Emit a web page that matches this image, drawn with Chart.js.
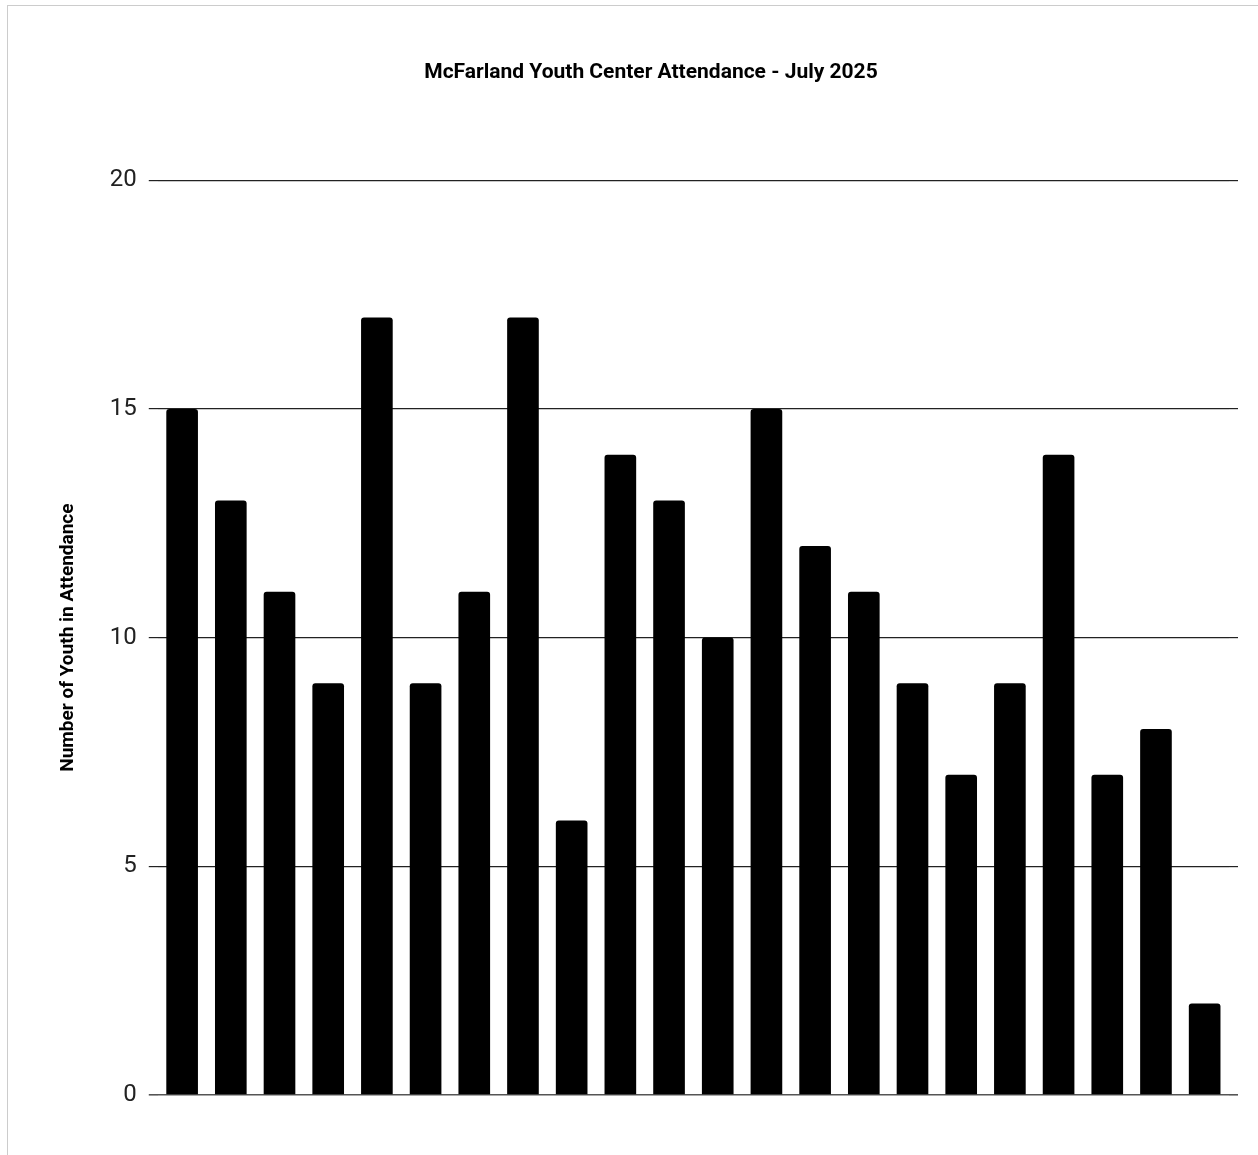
<!DOCTYPE html>
<html>
<head>
<meta charset="utf-8">
<script src="https://cdn.jsdelivr.net/npm/chart.js@4"></script>
<style>
  html, body { margin: 0; padding: 0; background: #fff; overflow: hidden; }
  #wrap {
    position: absolute;
    left: 7px;
    top: 5px;
    width: 1290px;
    height: 1200px;
    border: 1px solid #ccc;
  }
</style>
</head>
<body>
<div id="wrap"><canvas id="attendance-chart"></canvas></div>
<script>
  // one bar per open day in July 2025 (x labels are hidden in the original)
  const days = [
    "Jul 1", "Jul 2", "Jul 3", "Jul 7", "Jul 8", "Jul 9", "Jul 10", "Jul 11",
    "Jul 14", "Jul 15", "Jul 16", "Jul 17", "Jul 18", "Jul 21", "Jul 22",
    "Jul 23", "Jul 24", "Jul 25", "Jul 28", "Jul 29", "Jul 30", "Jul 31"
  ];
  const attendance = [15, 13, 11, 9, 17, 9, 11, 17, 6, 14, 13, 10, 15, 12, 11, 9, 7, 9, 14, 7, 8, 2];
  const yTicks = [0, 5, 10, 15, 20];

  const canvas = document.querySelector("#attendance-chart");

  function gridColor(ctx) {
    return ctx.tick && ctx.tick.value === 0 ? "#555" : "#222";
  }
  function gridWidth(ctx) {
    return ctx.tick && ctx.tick.value === 0 ? 1.6 : 1.2;
  }

  new Chart(canvas.getContext("2d"), {
    type: "bar",
    data: {
      labels: days,
      datasets: [
        {
          label: "Number of Youth in Attendance",
          data: attendance,
          backgroundColor: "#000",
          borderRadius: 3,
          borderSkipped: "start",
          categoryPercentage: 1,
          barPercentage: 0.65,
        },
      ],
    },
    options: {
      responsive: true,
      maintainAspectRatio: false,
      animation: false,
      layout: { padding: { left: 30, right: 34, top: 0, bottom: 111 } },
      plugins: {
        legend: { display: false },
        tooltip: { enabled: false },
        title: {
          display: true,
          text: "McFarland Youth Center Attendance - July 2025",
          color: "#000",
          font: { family: "Roboto", size: 21, weight: "bold" },
          padding: { top: 54, bottom: 95 },
        },
      },
      scales: {
        x: { display: false },
        y: {
          min: 0,
          max: 20,
          afterBuildTicks: (scale) => {
            scale.ticks = yTicks.map((v) => ({ value: v }));
          },
          border: { display: false },
          grid: { color: gridColor, lineWidth: gridWidth, tickLength: 9 },
          ticks: {
            color: "#222",
            padding: 12,
            font: { family: "Roboto", size: 24 },
          },
          title: {
            display: true,
            text: "Number of Youth in Attendance",
            color: "#000",
            font: { family: "Roboto", size: 19, weight: "bold" },
            padding: { top: 19, bottom: 18 },
          },
        },
        // right-hand stub so the grid lines run a little past the last bar
        y2: {
          position: "right",
          min: 0,
          max: 20,
          afterBuildTicks: (scale) => {
            scale.ticks = yTicks.map((v) => ({ value: v }));
          },
          afterFit: (scale) => {
            scale.width = 35;
          },
          border: { display: false },
          grid: { drawOnChartArea: false, color: gridColor, lineWidth: gridWidth, tickLength: 9 },
          ticks: { display: false },
        },
      },
    },
  });
</script>
</body>
</html>
